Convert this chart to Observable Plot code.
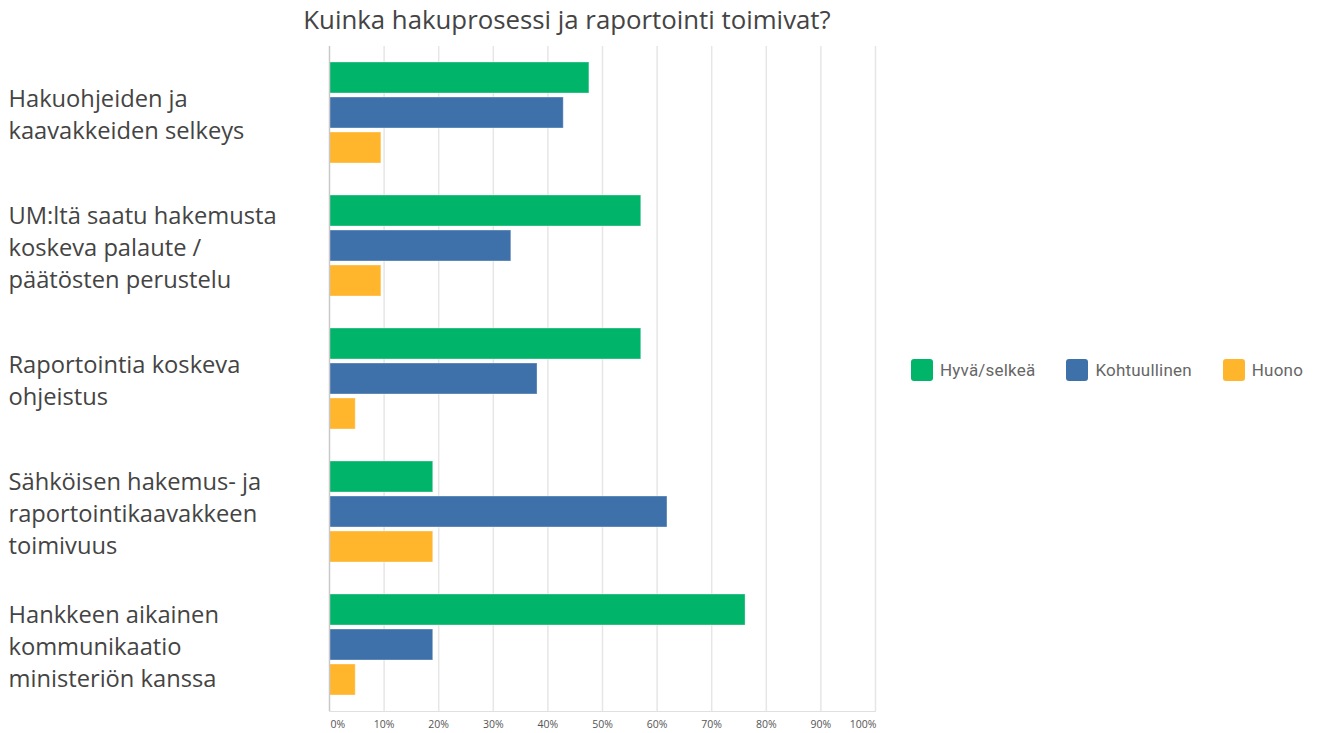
<!DOCTYPE html>
<html>
<head>
<meta charset="utf-8">
<script src="https://cdn.jsdelivr.net/npm/d3@7"></script>
<script src="https://cdn.jsdelivr.net/npm/@observablehq/plot@0.6"></script>
<style>
  html, body { margin: 0; padding: 0; background: #fff; }
  #wrap { position: relative; width: 1317px; height: 733px; overflow: hidden; }
  #title { position: absolute; left: 0; top: 0; width: 1134px; height: 40px; line-height: 38px; text-align: center;
    font-family: "Open Sans", sans-serif; font-size: 25.8px; color: #444; }
  #chart { position: absolute; left: 0; top: 40px; }
  #legend { position: absolute; left: 911px; top: 353px; width: 420px; white-space: nowrap; }
  .lg-swatches { font-family: Roboto, sans-serif; font-size: 17px; color: #666; letter-spacing: 0.2px; flex-wrap: nowrap !important; }
  .lg-swatch { margin-right: 31px !important; }
  .lg-swatch > svg { margin-right: 7px !important; }
  .lg-swatch rect { rx: 3px; ry: 3px; }
</style>
</head>
<body>
<div id="wrap">
  <div id="title">Kuinka hakuprosessi ja raportointi toimivat?</div>
  <div id="chart"></div>
  <div id="legend"></div>
</div>
<script>
const categories = [
  "Hakuohjeiden ja\nkaavakkeiden selkeys",
  "UM:ltä saatu hakemusta\nkoskeva palaute /\npäätösten perustelu",
  "Raportointia koskeva\nohjeistus",
  "Sähköisen hakemus- ja\nraportointikaavakkeen\ntoimivuus",
  "Hankkeen aikainen\nkommunikaatio\nministeriön kanssa"
];
const series = ["Hyvä/selkeä", "Kohtuullinen", "Huono"];
const colors = ["#00b469", "#3e71aa", "#ffb52c"];
const hyva = [47.6, 57.1, 57.1, 19.0, 76.2];
const kohtuullinen = [42.9, 33.3, 38.1, 61.9, 19.0];
const huono = [9.5, 9.5, 4.8, 19.0, 4.8];
const xTicks = [0, 10, 20, 30, 40, 50, 60, 70, 80, 90, 100];

const values = [hyva, kohtuullinen, huono];
const data = [];
categories.forEach((c, i) => series.forEach((s, j) => data.push({cat: c, series: s, value: values[j][i]})));

const tickStyle = {tickSize: 0, tickPadding: 9, tickFormat: d => d + "%", fontSize: 10.5, fill: "#555", label: null, facetAnchor: "bottom"};

const chart = Plot.plot({
  width: 1317,
  height: 693,
  marginLeft: 329,
  marginRight: 442,
  marginTop: 5,
  marginBottom: 22,
  style: {fontFamily: "Open Sans, sans-serif", background: "#fff"},
  x: {domain: [0, 100], axis: null, label: null},
  y: {domain: series, paddingInner: 0.12, paddingOuter: 0.46, axis: null},
  fy: {domain: categories, padding: 0, axis: null},
  color: {domain: series, range: colors},
  marks: [
    Plot.ruleX(xTicks.slice(1), {stroke: "#e6e6e6", strokeWidth: 1.5}),
    Plot.frame({anchor: "bottom", stroke: "#e0e0e0", facet: "super"}),
    Plot.barX(data, {fy: "cat", y: "series", x: "value", fill: "series", stroke: "#ffffff", strokeOpacity: 0.35, strokeWidth: 1}),
    Plot.ruleX([0], {stroke: "#c8c8c8", strokeWidth: 1.5}),
    Plot.text(categories, {fy: d => d, text: d => d, frameAnchor: "left", textAnchor: "start", dx: -321, dy: 0,
      fontSize: 23.7, lineHeight: 1.35, fill: "#444"}),
    Plot.axisX(xTicks.slice(1, 10), tickStyle),
    Plot.axisX([0], {...tickStyle, textAnchor: "start", dx: 1}),
    Plot.axisX([100], {...tickStyle, textAnchor: "end", dx: 1})
  ]
});
document.getElementById("chart").appendChild(chart);

const legend = Plot.legend({
  color: {domain: series, range: colors},
  legend: "swatches",
  swatchSize: 22,
  className: "lg"
});
document.getElementById("legend").appendChild(legend);
</script>
</body>
</html>
